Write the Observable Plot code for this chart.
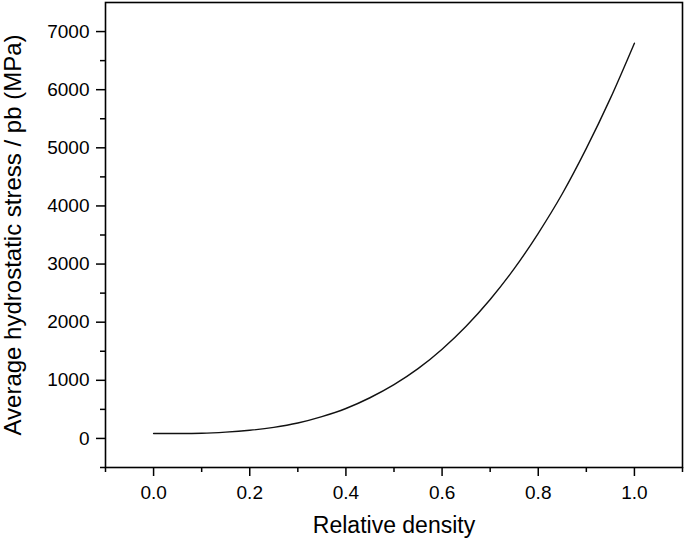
<!DOCTYPE html>
<html>
<head>
<meta charset="utf-8">
<script src="https://cdn.jsdelivr.net/npm/d3@7"></script>
<script src="https://cdn.jsdelivr.net/npm/@observablehq/plot@0.6"></script>
<style>
  html, body { margin: 0; padding: 0; background: #fff; }
  #chart svg { display: block; }
</style>
</head>
<body>
<div id="chart"></div>
<script>
// Data
const density = [0, 0.05, 0.1, 0.15, 0.2, 0.25, 0.3, 0.35, 0.4, 0.45, 0.5,
                 0.55, 0.6, 0.65, 0.7, 0.75, 0.8, 0.85, 0.9, 0.95, 1.0];
const stress  = [85, 86, 90, 108, 140, 190, 265, 375, 515, 700, 925,
                 1200, 1535, 1930, 2390, 2920, 3530, 4210, 4990, 5850, 6800];

const xTicks = [0, 0.2, 0.4, 0.6, 0.8, 1.0];
const xMinorTicks = [-0.1, 0.1, 0.3, 0.5, 0.7, 0.9, 1.1];
const yTicks = [0, 1000, 2000, 3000, 4000, 5000, 6000, 7000];
const yMinorTicks = [-500, 500, 1500, 2500, 3500, 4500, 5500, 6500];

const xLabel = "Relative density";
const yLabel = "Average hydrostatic stress / pb (MPa)";

const rows = density.map((d, i) => ({density: d, stress: stress[i]}));

const font = "'Liberation Sans', Arial, Helvetica, sans-serif";

const chart = Plot.plot({
  width: 685,
  height: 542,
  marginLeft: 105,
  marginRight: 3,
  marginTop: 2,
  marginBottom: 75,
  style: {fontFamily: font, fontSize: "19px", color: "#000", background: "#fff"},
  x: {domain: [-0.1, 1.1]},
  y: {domain: [-500, 7500]},
  marks: [
    Plot.axisX({ticks: xTicks, tickSize: 9, tickPadding: 9, tickFormat: d3.format(".1f"),
                label: null, strokeWidth: 1.5, fontSize: 19, stroke: "#000", fill: "#000"}),
    Plot.axisX({ticks: xMinorTicks, tickSize: 5, text: null, label: null, strokeWidth: 1.5, stroke: "#000"}),
    Plot.axisY({ticks: yTicks, tickSize: 9, tickPadding: 7, tickFormat: d3.format("d"),
                label: null, strokeWidth: 1.5, fontSize: 19, stroke: "#000", fill: "#000"}),
    Plot.axisY({ticks: yMinorTicks, tickSize: 5, text: null, label: null, strokeWidth: 1.5, stroke: "#000"}),
    Plot.line(rows, {x: "density", y: "stress", stroke: "#111", strokeWidth: 1.4, curve: "monotone-x"}),
    Plot.frame({stroke: "#000", strokeWidth: 1.6}),
    Plot.text([xLabel], {frameAnchor: "bottom", dy: 58.5, lineAnchor: "middle", textAnchor: "middle",
                         fontSize: 23, fill: "#000", fontFamily: font}),
    Plot.text([yLabel], {frameAnchor: "left", dx: -92.5, rotate: -90, lineAnchor: "middle", textAnchor: "middle",
                         fontSize: 24, fill: "#000", fontFamily: font})
  ]
});

document.getElementById("chart").append(chart);
</script>
</body>
</html>
